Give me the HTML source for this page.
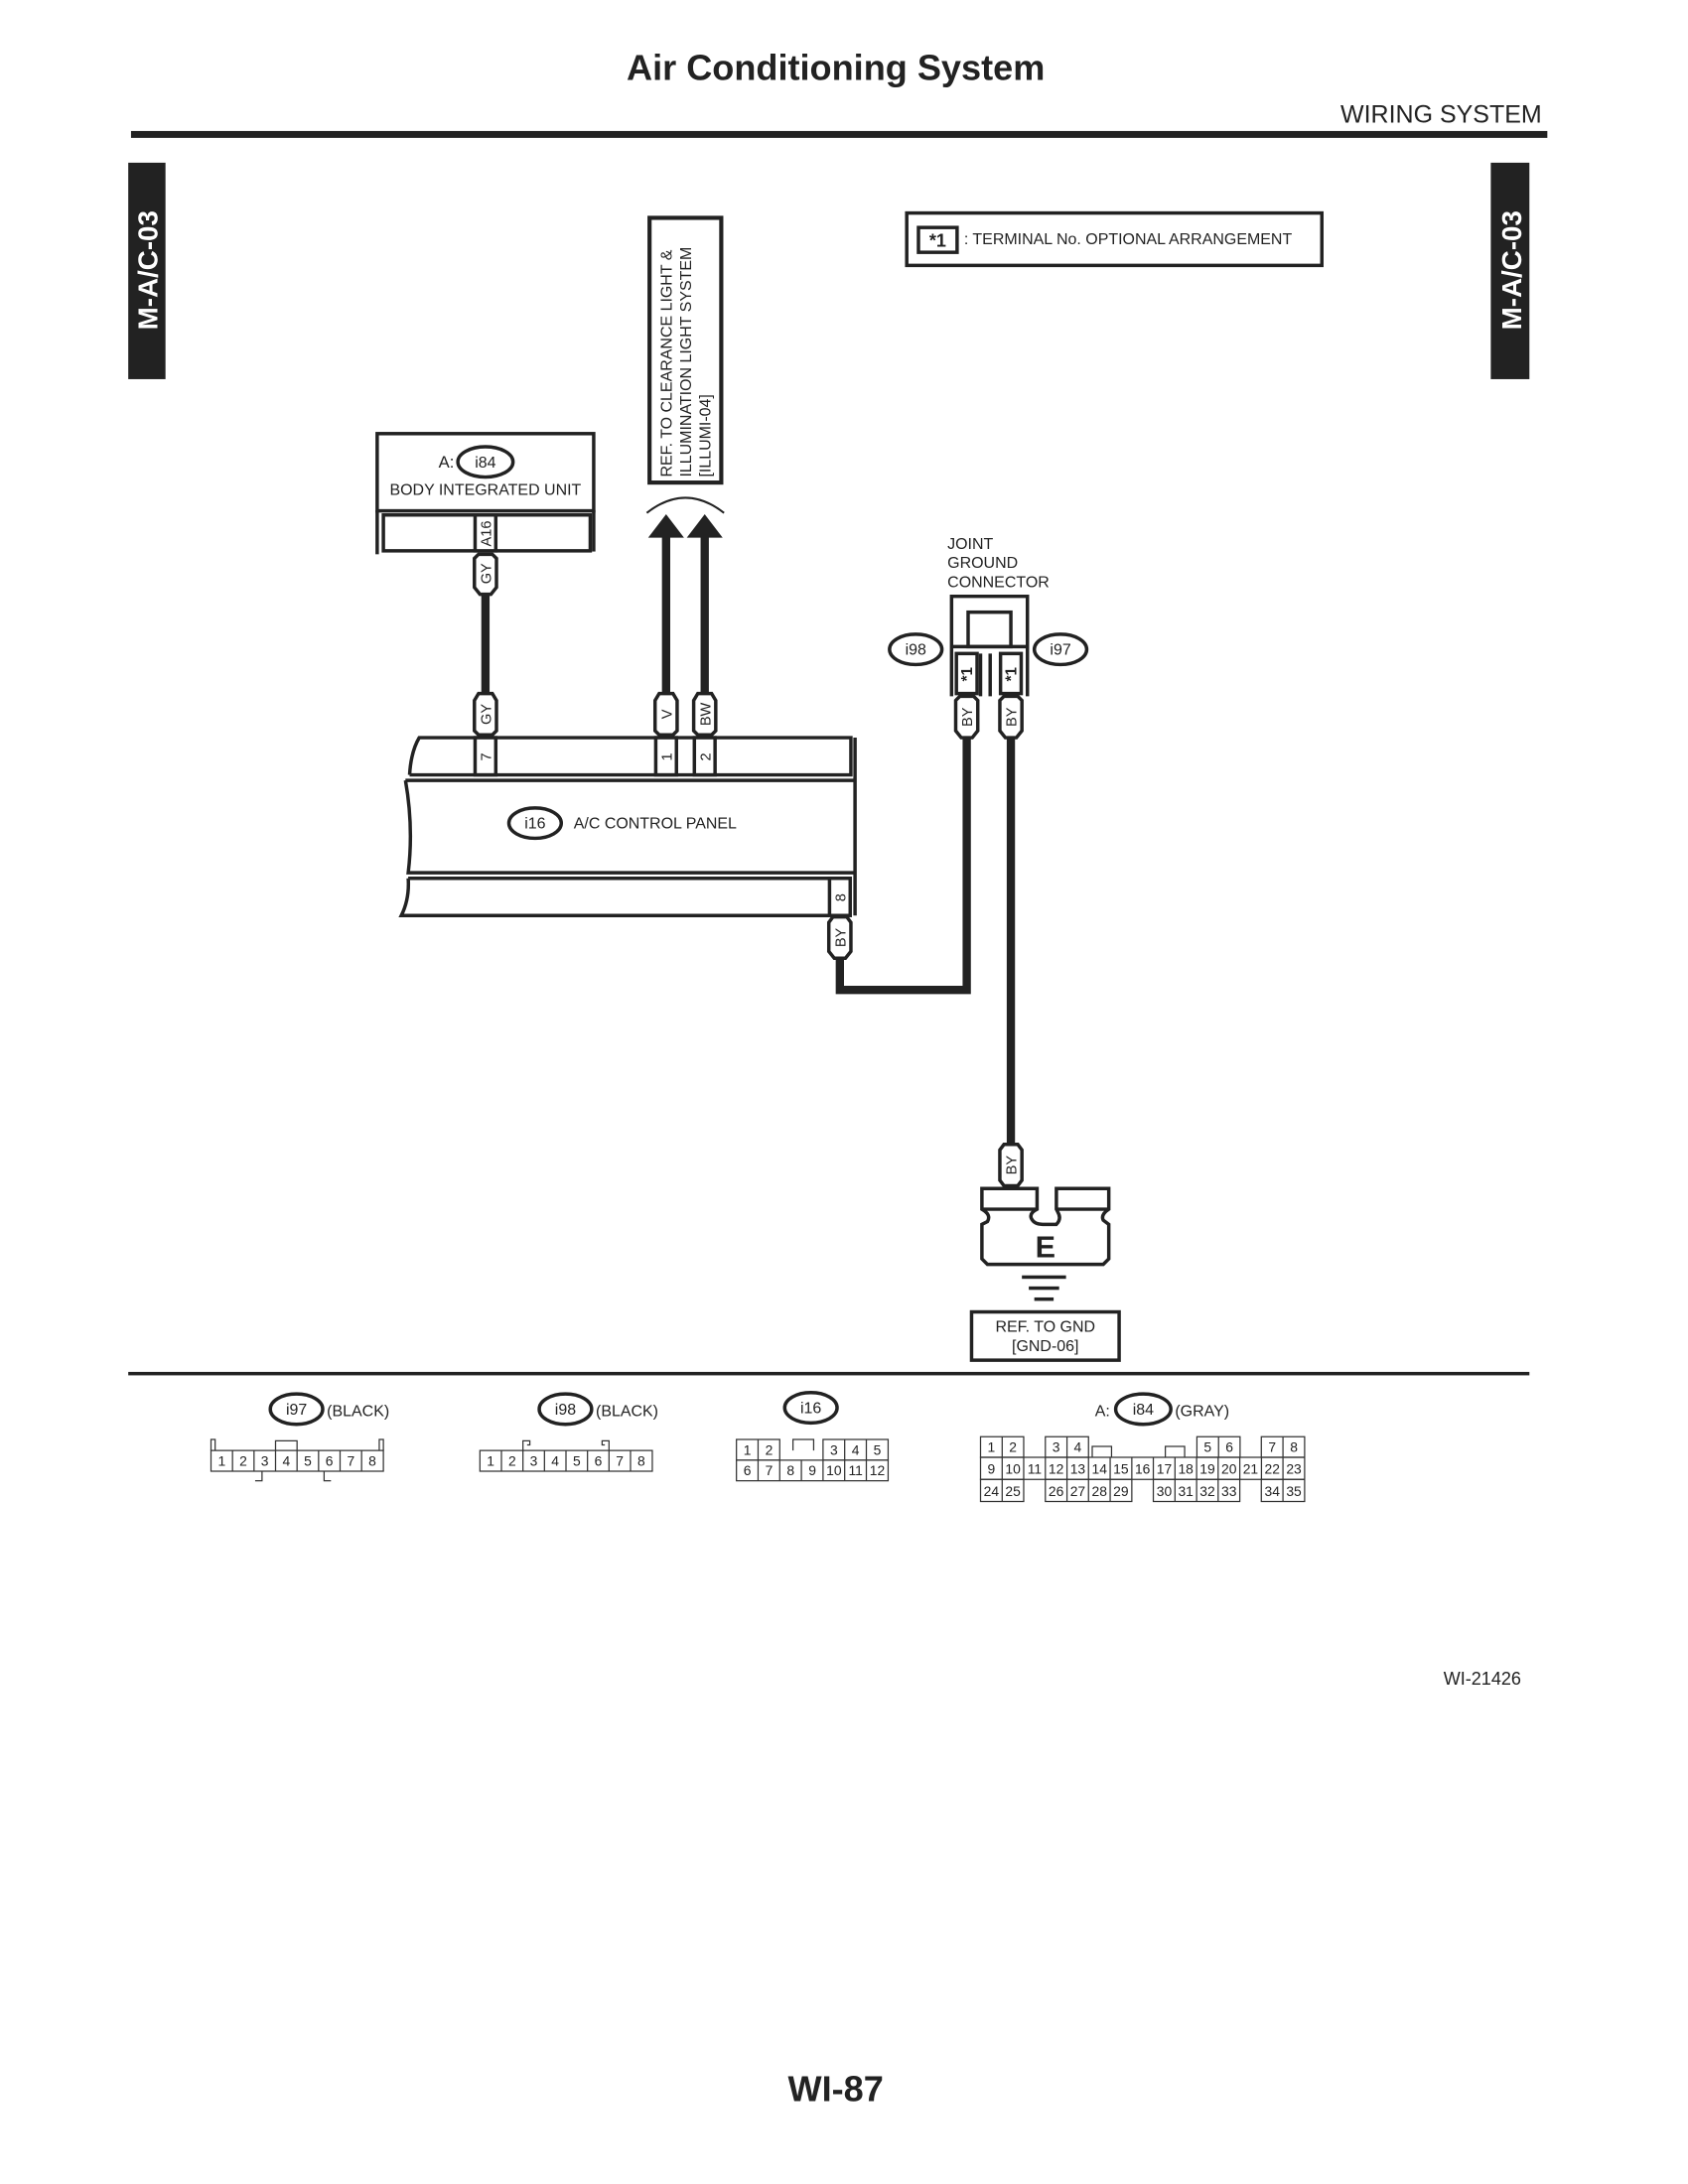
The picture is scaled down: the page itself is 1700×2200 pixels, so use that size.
<!DOCTYPE html>
<html><head><meta charset="utf-8"><style>
html,body{margin:0;padding:0;background:#fff;}
svg{display:block;}
text{font-family:"Liberation Sans",sans-serif;fill:#222;}
</style></head><body>
<svg width="1700" height="2200" viewBox="0 0 1224 1584" xmlns="http://www.w3.org/2000/svg">
<rect width="1224" height="1584" fill="#fff"/>
<text x="606" y="58" font-size="26" font-weight="bold" text-anchor="middle">Air Conditioning System</text>
<text x="1118" y="89" font-size="18" text-anchor="end">WIRING SYSTEM</text>
<rect x="95" y="95" width="1027" height="5" fill="#222"/>
<rect x="93" y="118" width="27" height="157" fill="#222"/>
<text transform="translate(114,196) rotate(-90)" font-size="20" font-weight="bold" text-anchor="middle" style="fill:#fff">M-A/C-03</text>
<rect x="1081" y="118" width="28" height="157" fill="#222"/>
<text transform="translate(1103,196) rotate(-90)" font-size="20" font-weight="bold" text-anchor="middle" style="fill:#fff">M-A/C-03</text>
<rect x="657.5" y="154.5" width="301" height="38" fill="none" stroke="#222" stroke-width="2.5"/>
<rect x="666" y="165" width="28" height="18" fill="none" stroke="#222" stroke-width="2.5"/>
<text x="680" y="179" font-size="13" font-weight="bold" text-anchor="middle">*1</text>
<text x="699" y="177" font-size="11.5">: TERMINAL No. OPTIONAL ARRANGEMENT</text>
<rect x="471" y="158" width="52" height="192" fill="none" stroke="#222" stroke-width="3"/>
<g font-size="11.5">
<text transform="translate(487,346) rotate(-90)">REF. TO CLEARANCE LIGHT &amp;</text>
<text transform="translate(501,346) rotate(-90)">ILLUMINATION LIGHT SYSTEM</text>
<text transform="translate(515,346) rotate(-90)">[ILLUMI-04]</text>
</g>
<path d="M469,372 Q497,350 525,372" fill="none" stroke="#222" stroke-width="1.5"/>
<polygon points="470,390 483,373 496,390" fill="#222"/>
<polygon points="498,390 511,373 524,390" fill="#222"/>
<rect x="480" y="389" width="6" height="115" fill="#222"/>
<rect x="508" y="389" width="6" height="115" fill="#222"/>
<rect x="273.5" y="314.5" width="157" height="56" fill="none" stroke="#222" stroke-width="2.5"/>
<line x1="273.5" y1="370" x2="273.5" y2="402" stroke="#222" stroke-width="2.5"/>
<line x1="430.5" y1="370" x2="430.5" y2="400" stroke="#222" stroke-width="2.5"/>
<rect x="278" y="373.5" width="150" height="26" fill="none" stroke="#222" stroke-width="2.5"/>
<text x="318" y="339" font-size="12">A:</text>
<ellipse cx="352" cy="335" rx="20" ry="11" fill="none" stroke="#222" stroke-width="2.5"/>
<text x="352" y="339" font-size="11.5" text-anchor="middle">i84</text>
<text x="352" y="359" font-size="11.5" text-anchor="middle">BODY INTEGRATED UNIT</text>
<rect x="344.5" y="373.5" width="15" height="26" fill="#fff" stroke="#222" stroke-width="2.5"/>
<text transform="translate(356,387) rotate(-90)" font-size="10.5" text-anchor="middle">A16</text>
<rect x="349" y="430" width="6" height="74" fill="#222"/>
<g fill="#fff" stroke="#222" stroke-width="2.5">
<polygon points="347,402 357,402 360,405 360,426 356,431 348,431 344,426 344,405"/>
<polygon points="347,503 357,503 360,508 360,530 357,533 347,533 344,530 344,508"/>
<polygon points="478,503 488,503 491,508 491,530 488,533 478,533 475,530 475,508"/>
<polygon points="506,503 516,503 519,508 519,530 516,533 506,533 503,530 503,508"/>
</g>
<g font-size="10.5" text-anchor="middle">
<text transform="translate(356,416) rotate(-90)">GY</text>
<text transform="translate(356,518) rotate(-90)">GY</text>
<text transform="translate(487,518) rotate(-90)">V</text>
<text transform="translate(515,518) rotate(-90)">BW</text>
</g>
<g fill="none" stroke="#222" stroke-width="2.5">
<path d="M297,562 Q298,545 304,535 L617,535 L617,562 L297,562"/>
<line x1="620" y1="535" x2="620" y2="664"/>
<path d="M294,566 L620,566 M294,566 Q300,600 296,633 L620,633"/>
<path d="M296,637 L617,637 M296,637 Q297,652 291,664 L601,664"/>
</g>
<g fill="#fff" stroke="#222" stroke-width="2.5">
<rect x="344.5" y="535" width="15" height="27"/>
<rect x="475.5" y="535" width="15" height="27"/>
<rect x="503.5" y="535" width="15" height="27"/>
<rect x="601.5" y="637" width="15" height="27"/>
</g>
<g font-size="10.5" text-anchor="middle">
<text transform="translate(356,549) rotate(-90)">7</text>
<text transform="translate(487,549) rotate(-90)">1</text>
<text transform="translate(515,549) rotate(-90)">2</text>
<text transform="translate(613,651) rotate(-90)">8</text>
</g>
<ellipse cx="388" cy="597" rx="19" ry="11" fill="none" stroke="#222" stroke-width="2.5"/>
<text x="388" y="601" font-size="11.5" text-anchor="middle">i16</text>
<text x="416" y="601" font-size="11.5">A/C CONTROL PANEL</text>
<path d="M609,694 L609,718 L701,718 L701,534" fill="none" stroke="#222" stroke-width="6"/>
<polygon points="604,665 614,665 617,669 617,690 613,695 605,695 601,690 601,669" fill="#fff" stroke="#222" stroke-width="2.5"/>
<text transform="translate(613,680) rotate(-90)" font-size="10.5" text-anchor="middle">BY</text>
<text x="687" y="398" font-size="11.5">JOINT</text>
<text x="687" y="412" font-size="11.5">GROUND</text>
<text x="687" y="426" font-size="11.5">CONNECTOR</text>
<g fill="none" stroke="#222" stroke-width="2.5">
<path d="M690,505 L690,432.5 L745,432.5 L745,505"/>
<rect x="702" y="444" width="31" height="25"/>
<line x1="690" y1="469" x2="745" y2="469"/>
<path d="M711,505 L711,474 M718,505 L718,474"/>
</g>
<g fill="#fff" stroke="#222" stroke-width="2.5">
<rect x="693.5" y="474" width="15" height="29"/>
<rect x="725.5" y="474" width="15" height="29"/>
</g>
<g font-size="11" font-weight="bold" text-anchor="middle">
<text transform="translate(705,489) rotate(-90)">*1</text>
<text transform="translate(737,489) rotate(-90)">*1</text>
</g>
<ellipse cx="664" cy="471" rx="19" ry="11" fill="none" stroke="#222" stroke-width="2.5"/>
<text x="664" y="475" font-size="11.5" text-anchor="middle">i98</text>
<ellipse cx="769" cy="471" rx="19" ry="11" fill="none" stroke="#222" stroke-width="2.5"/>
<text x="769" y="475" font-size="11.5" text-anchor="middle">i97</text>
<rect x="730" y="534" width="6" height="298" fill="#222"/>
<g fill="#fff" stroke="#222" stroke-width="2.5">
<polygon points="696,505 706,505 709,508 709,530 705,535 697,535 693,530 693,508"/>
<polygon points="728,505 738,505 741,508 741,530 737,535 729,535 725,530 725,508"/>
<polygon points="728,830 738,830 741,834 741,856 738,860 728,860 725,856 725,834"/>
</g>
<g font-size="10.5" text-anchor="middle">
<text transform="translate(705,520) rotate(-90)">BY</text>
<text transform="translate(737,520) rotate(-90)">BY</text>
<text transform="translate(737,845) rotate(-90)">BY</text>
</g>
<g fill="none" stroke="#222" stroke-width="2.5">
<path d="M712,862 L752,862 L752,877 Q746,880 748,884 Q750,888 756,888 L766,888 Q770,884 767,879 L766,877 L766,862 L804,862 L804,877 Q798,881 800,885 L804,888 L804,913 L800,917 L716,917 L712,913 L712,888 L716,886 Q719,881 712,877 Z"/>
<line x1="712" y1="877" x2="752" y2="877"/>
<line x1="766" y1="877" x2="804" y2="877"/>
</g>
<text x="758" y="912" font-size="22" font-weight="bold" text-anchor="middle">E</text>
<rect x="741" y="925" width="32" height="2.5" fill="#222"/>
<rect x="746" y="933" width="22" height="2.5" fill="#222"/>
<rect x="750" y="941" width="14" height="2.5" fill="#222"/>
<rect x="704.5" y="951.5" width="107" height="35" fill="none" stroke="#222" stroke-width="2.5"/>
<text x="758" y="966" font-size="11.5" text-anchor="middle">REF. TO GND</text>
<text x="758" y="980" font-size="11.5" text-anchor="middle">[GND-06]</text>
<rect x="93" y="995" width="1016" height="2.5" fill="#222"/>
<g font-size="11.5">
<ellipse cx="215" cy="1022" rx="19" ry="11" fill="none" stroke="#222" stroke-width="2.5"/>
<text x="215" y="1026" text-anchor="middle">i97</text><text x="237" y="1027">(BLACK)</text>
<ellipse cx="410" cy="1022" rx="19" ry="11" fill="none" stroke="#222" stroke-width="2.5"/>
<text x="410" y="1026" text-anchor="middle">i98</text><text x="432" y="1027">(BLACK)</text>
<ellipse cx="588" cy="1021" rx="19" ry="11" fill="none" stroke="#222" stroke-width="2.5"/>
<text x="588" y="1025" text-anchor="middle">i16</text>
<text x="794" y="1027">A:</text>
<ellipse cx="829" cy="1022" rx="20" ry="11" fill="none" stroke="#222" stroke-width="2.5"/>
<text x="829" y="1026" text-anchor="middle">i84</text><text x="852" y="1027">(GRAY)</text>
</g>
<g fill="none" stroke="#333" stroke-width="0.9" font-size="10">
<path d="M153,1052 h125 v15 h-125 z M168.6,1052v15 M184.2,1052v15 M199.8,1052v15 M215.4,1052v15 M231,1052v15 M246.6,1052v15 M262.2,1052v15"/>
<path d="M153,1052 v-8 h3 v8 M275,1052 v-8 h3 v8 M199.8,1052 v-7 h15.6 v7 M190,1067 v7 h-5 M235,1067 v7 h5"/>
<path d="M348,1052 h125 v15 h-125 z M363.6,1052v15 M379.2,1052v15 M394.8,1052v15 M410.4,1052v15 M426,1052v15 M441.6,1052v15 M457.2,1052v15"/>
<path d="M379.2,1052 v-7 h5 v3 h-2 M441.6,1052 v-7 h-5 v3 h2"/>
<path d="M534,1044 h31.4 v15 h-31.4 z M549.7,1044v15 M596.8,1044 h47.2 v15 h-47.2 z M612.5,1044v15 M628.2,1044v15"/>
<path d="M534,1059 h110 v15 h-110 z M549.7,1059v15 M565.4,1059v15 M581.1,1059v15 M596.8,1059v15 M612.5,1059v15 M628.2,1059v15 M575,1052 v-8 h15 v8"/>
<path d="M711,1042 h31.3 v15 h-31.3 z M726.7,1042v15 M758,1042 h31.3 v15 h-31.3 z M773.7,1042v15 M867.9,1042 h31.3 v15 h-31.3 z M883.6,1042v15 M914.6,1042 h31.4 v15 h-31.4 z M930.3,1042v15"/>
<path d="M792,1057 v-8 h14 v8 M845,1057 v-8 h14 v8"/>
<path d="M711,1057 h235 v16 h-235 z M726.7,1057v16 M742.3,1057v16 M758,1057v16 M773.7,1057v16 M789.3,1057v16 M805,1057v16 M820.7,1057v16 M836.3,1057v16 M852,1057v16 M867.7,1057v16 M883.3,1057v16 M899,1057v16 M914.7,1057v16 M930.3,1057v16"/>
<path d="M711,1073 h31.3 v16 h-31.3 z M726.7,1073v16 M758,1073 h62.7 v16 h-62.7 z M773.7,1073v16 M789.3,1073v16 M805,1073v16 M836.3,1073 h62.7 v16 h-62.7 z M852,1073v16 M867.7,1073v16 M883.3,1073v16 M914.6,1073 h31.4 v16 h-31.4 z M930.3,1073v16"/>
</g>
<g font-size="10" text-anchor="middle">
<text x="160.8" y="1063">1</text><text x="176.4" y="1063">2</text><text x="192" y="1063">3</text><text x="207.6" y="1063">4</text><text x="223.2" y="1063">5</text><text x="238.8" y="1063">6</text><text x="254.4" y="1063">7</text><text x="270" y="1063">8</text>
<text x="355.8" y="1063">1</text><text x="371.4" y="1063">2</text><text x="387" y="1063">3</text><text x="402.6" y="1063">4</text><text x="418.2" y="1063">5</text><text x="433.8" y="1063">6</text><text x="449.4" y="1063">7</text><text x="465" y="1063">8</text>
<text x="541.9" y="1055">1</text><text x="557.6" y="1055">2</text><text x="604.7" y="1055">3</text><text x="620.4" y="1055">4</text><text x="636.1" y="1055">5</text>
<text x="541.9" y="1070">6</text><text x="557.6" y="1070">7</text><text x="573.3" y="1070">8</text><text x="589" y="1070">9</text><text x="604.7" y="1070">10</text><text x="620.4" y="1070">11</text><text x="636.1" y="1070">12</text>
<text x="718.8" y="1053">1</text><text x="734.5" y="1053">2</text><text x="765.8" y="1053">3</text><text x="781.5" y="1053">4</text><text x="875.7" y="1053">5</text><text x="891.4" y="1053">6</text><text x="922.5" y="1053">7</text><text x="938.2" y="1053">8</text>
<text x="718.8" y="1069">9</text><text x="734.5" y="1069">10</text><text x="750.2" y="1069">11</text><text x="765.8" y="1069">12</text><text x="781.5" y="1069">13</text><text x="797.2" y="1069">14</text><text x="812.8" y="1069">15</text><text x="828.5" y="1069">16</text><text x="844.2" y="1069">17</text><text x="859.8" y="1069">18</text><text x="875.5" y="1069">19</text><text x="891.2" y="1069">20</text><text x="906.8" y="1069">21</text><text x="922.5" y="1069">22</text><text x="938.2" y="1069">23</text>
<text x="718.8" y="1085">24</text><text x="734.5" y="1085">25</text><text x="765.8" y="1085">26</text><text x="781.5" y="1085">27</text><text x="797.2" y="1085">28</text><text x="812.8" y="1085">29</text><text x="844.2" y="1085">30</text><text x="859.8" y="1085">31</text><text x="875.5" y="1085">32</text><text x="891.2" y="1085">33</text><text x="922.5" y="1085">34</text><text x="938.2" y="1085">35</text>
</g>
<text x="1103" y="1222" font-size="13" text-anchor="end">WI-21426</text>
<text x="606" y="1524" font-size="26" font-weight="bold" text-anchor="middle">WI-87</text>
</svg>
</body></html>
